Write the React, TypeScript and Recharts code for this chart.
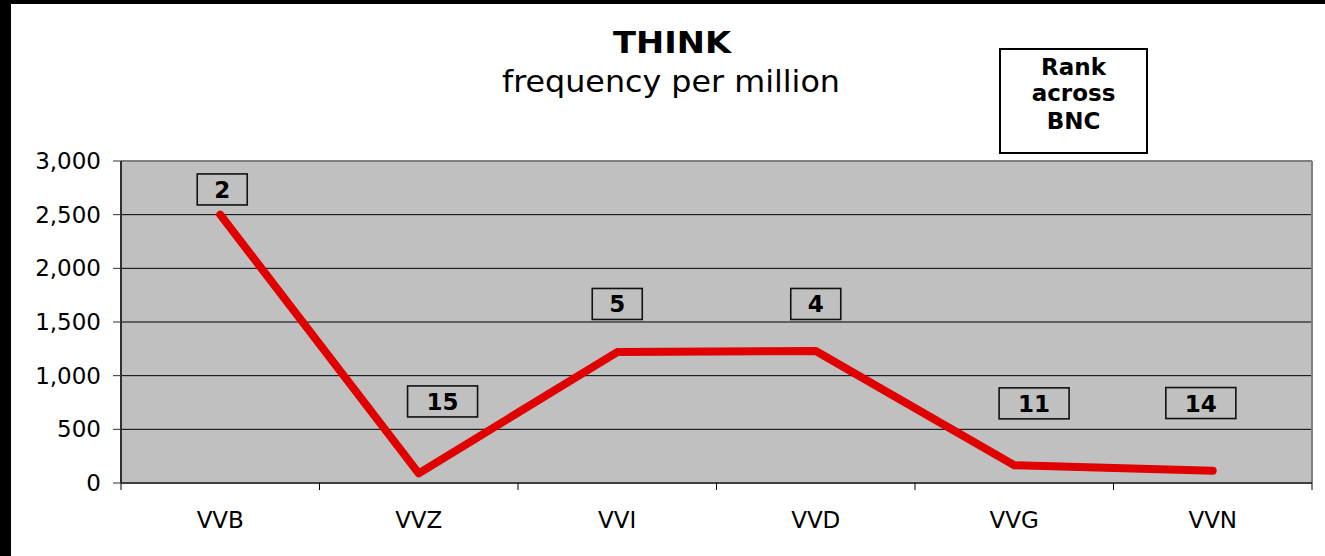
import React from 'react';
import { LineChart, Line, XAxis, YAxis, CartesianGrid, ReferenceLine, ReferenceDot } from 'recharts';

const categories = ['VVB', 'VVZ', 'VVI', 'VVD', 'VVG', 'VVN'];
const frequency = [2500, 90, 1220, 1230, 165, 115];
const ranks = [2, 15, 5, 4, 11, 14];
// anchor of each rank box, in chart units (category index units, frequency units)
const rankLabelX = [0.51, 1.62, 2.5, 3.5, 4.6, 5.44];
const rankLabelY = [2735, 760, 1668, 1668, 742, 745];
const yTicks = [0, 500, 1000, 1500, 2000, 2500, 3000];
const gridValues = [500, 1000, 1500, 2000, 2500];

const data = categories.map((c, i) => ({ pos: i + 0.5, name: c, frequency: frequency[i] }));
const xTicks = Array.from({ length: categories.length * 2 + 1 }, (_, i) => i / 2);

const FONT = '"DejaVu Sans", Verdana, sans-serif';

const XTick = (props: any) => {
  const { x, y, payload } = props;
  const v = payload.value;
  if (Number.isInteger(v)) {
    return <line x1={x} x2={x} y1={y} y2={y + 7} stroke="#000" strokeWidth={1} />;
  }
  const name = categories[Math.floor(v)];
  return (
    <text x={x} y={y + 45} textAnchor="middle" fontSize={23} fontFamily={FONT} fill="#000">
      {name}
    </text>
  );
};

const makeRankBox = (rank: number) => (props: any) => {
  const { cx, cy } = props;
  const label = String(rank);
  const w = label.length === 1 ? 50 : 70;
  const h = 31;
  return (
    <g>
      <rect x={cx - w / 2} y={cy - h / 2} width={w} height={h} fill="none" stroke="#111" strokeWidth={1.6} />
      <text x={cx} y={cy + 8.5} textAnchor="middle" fontSize={23} fontWeight="bold" fontFamily={FONT} fill="#000">
        {label}
      </text>
    </g>
  );
};

export default function App() {
  return (
    <div style={{ position: 'absolute', left: 0, top: 0, width: 1325, height: 556, background: '#000', overflow: 'hidden' }}>
      <div style={{ position: 'absolute', left: 11, top: 4, width: 1314, height: 552, background: '#fff' }} />
      <div style={{ position: 'absolute', left: 0, top: 0 }}>
        <LineChart width={1325} height={556} data={data} margin={{ top: 161, right: 13, bottom: 0, left: 21 }}>
          <CartesianGrid
            fill="#C0C0C0"
            vertical={false}
            horizontalValues={gridValues}
            stroke="#000"
            strokeWidth={1}
          />
          <XAxis
            dataKey="pos"
            type="number"
            domain={[0, 6]}
            ticks={xTicks}
            interval={0}
            height={73}
            tickSize={0}
            tickMargin={0}
            tickLine={false}
            tick={<XTick />}
            axisLine={{ stroke: '#404040', strokeWidth: 2 }}
          />
          <YAxis
            type="number"
            domain={[0, 3000]}
            ticks={yTicks}
            interval={0}
            width={100}
            tickSize={8}
            tickMargin={12}
            tickFormatter={(v: number) => v.toLocaleString('en-US')}
            tick={{ fontSize: 23, fill: '#000', fontFamily: FONT }}
            axisLine={{ stroke: '#303030', strokeWidth: 2 }}
            tickLine={{ stroke: '#303030', strokeWidth: 1 }}
          />
          <ReferenceLine y={3000} stroke="#808080" strokeWidth={2} />
          <ReferenceLine x={6} stroke="#808080" strokeWidth={2} />
          <Line
            type="linear"
            dataKey="frequency"
            stroke="#E00000"
            strokeWidth={8}
            strokeLinecap="round"
            strokeLinejoin="round"
            dot={false}
            activeDot={false}
            isAnimationActive={false}
          />
          {ranks.map((r, i) => (
            <ReferenceDot
              key={i}
              x={rankLabelX[i]}
              y={rankLabelY[i]}
              r={0}
              shape={makeRankBox(r)}
            />
          ))}
        </LineChart>
      </div>
      <svg width={1325} height={556} style={{ position: 'absolute', left: 0, top: 0, pointerEvents: 'none' }}>
        <text x={672} y={53} textAnchor="middle" fontSize={30} fontWeight="bold" fontFamily={FONT} fill="#000" textLength={118} lengthAdjust="spacingAndGlyphs">
          THINK
        </text>
        <text x={671} y={92} textAnchor="middle" fontSize={30} fontFamily={FONT} fill="#000" textLength={338} lengthAdjust="spacingAndGlyphs">
          frequency per million
        </text>
        <rect x={1000} y={49} width={147} height={104} fill="#fff" stroke="#000" strokeWidth={2} />
        <text x={1073.5} y={74.5} textAnchor="middle" fontSize={23} fontWeight="bold" fontFamily={FONT} fill="#000">Rank</text>
        <text x={1073.5} y={101} textAnchor="middle" fontSize={23} fontWeight="bold" fontFamily={FONT} fill="#000">across</text>
        <text x={1073.5} y={129} textAnchor="middle" fontSize={23} fontWeight="bold" fontFamily={FONT} fill="#000">BNC</text>
      </svg>
    </div>
  );
}
